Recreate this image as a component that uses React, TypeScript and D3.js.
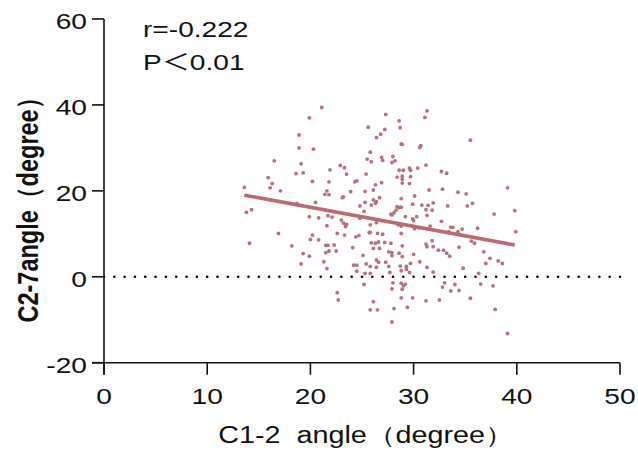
import React from "react";
import * as d3 from "d3";

const xTicks = [0, 10, 20, 30, 40, 50];
const yTicks = [-20, 0, 20, 40, 60];
const xTitle = "C1-2  angle（degree）";
const yTitle = "C2-7angle（degree）";
const annotationR = "r=-0.222";
const annotationP = ["P", "＜", "0.01"];

// C1-2 angle values
const xValues = [
  21.1, 19.9, 18.9, 25.6, 26.4, 18.9, 20.3, 25.8, 16.5, 19.1, 25.5, 25.9, 18.6, 19.3, 21.9, 22.9, 23.3, 23.5, 25.4, 15.9,
  16.3, 16.1, 20.2, 21.8, 24.3, 24.5, 26.3, 13.6, 17.1, 21.6, 21.4, 21.8, 23.9, 25.3, 26.1, 23.2, 23.1, 20.5, 25.3, 24.8,
  26.1, 26.4, 25.9, 26.3, 18.7, 13.8, 14.3, 31.3, 31.1, 27.3, 28.6, 28.7, 27.2, 26.8, 35.5, 28.8, 28.9, 30.7, 30.6, 26.9,
  27.0, 28.0, 28.2, 27.9, 31.2, 28.6, 29.0, 29.6, 29.7, 30.4, 32.7, 33.2, 28.4, 28.9, 28.9, 29.7, 26.9, 28.9, 29.6, 31.5,
  32.8, 34.3, 35.1, 39.1, 26.7, 28.8, 30.1, 31.9, 29.9, 30.8, 31.4, 33.3, 35.2, 35.7, 28.4, 28.6, 28.8, 28.3, 28.1, 27.8,
  31.2, 31.8, 39.8, 37.8, 39.9, 19.9, 20.8, 21.7, 22.1, 21.6, 23.0, 23.2, 23.5, 23.4, 24.8, 25.2, 25.8, 26.4, 16.9, 14.1,
  20.2, 20.0, 20.8, 22.6, 23.3, 24.4, 24.7, 25.7, 25.8, 26.5, 18.2, 21.5, 21.7, 22.3, 21.5, 21.8, 22.5, 24.1, 25.9, 26.1,
  26.3, 26.6, 19.3, 19.9, 25.1, 21.3, 19.1, 24.2, 24.5, 25.8, 26.4, 26.6, 25.4, 21.6, 24.5, 25.3, 25.8, 25.2, 22.6, 22.7,
  26.1, 25.8, 26.5, 27.9, 29.2, 29.9, 30.0, 30.3, 31.3, 28.5, 28.8, 31.6, 32.7, 30.1, 30.5, 33.4, 33.6, 33.8, 34.3, 34.7,
  36.2, 27.0, 28.8, 27.2, 27.8, 28.9, 26.7, 27.6, 27.9, 27.9, 31.2, 31.3, 31.8, 31.9, 32.4, 32.9, 33.2, 33.5, 34.4, 35.6,
  35.9, 30.0, 28.6, 28.9, 26.4, 27.3, 27.6, 28.7, 29.3, 29.7, 30.6, 31.3, 31.9, 28.8, 29.3, 29.6, 27.7, 36.8, 37.4, 37.0,
  38.2, 38.6, 34.8, 36.3, 28.0, 28.8, 29.2, 29.0, 27.9, 28.9, 33.0, 32.8, 34.0, 33.6, 34.4, 36.5, 37.7, 28.8, 29.9, 31.2,
  32.5, 35.5, 28.1, 29.4, 37.9, 27.9, 39.1,
];

// C2-7 angle values
const yValues = [
  39.4, 37.0, 33.0, 34.8, 32.4, 30.0, 29.7, 29.0, 27.0, 26.3, 27.4, 26.8, 24.0, 24.2, 24.9, 25.9, 25.4, 23.9, 23.9, 23.1,
  21.7, 20.7, 22.2, 22.1, 22.1, 22.3, 21.4, 20.8, 20.0, 20.0, 19.2, 19.1, 19.8, 19.9, 20.2, 18.6, 18.4, 17.3, 17.3, 16.5,
  17.9, 17.5, 16.7, 17.1, 17.1, 15.0, 15.6, 38.6, 37.1, 37.8, 36.3, 34.7, 34.3, 33.2, 31.8, 30.9, 30.8, 30.5, 30.1, 27.8,
  27.1, 28.0, 27.0, 26.6, 26.0, 24.8, 24.8, 25.3, 24.8, 25.3, 24.5, 24.1, 23.2, 23.4, 22.7, 23.3, 21.9, 21.8, 21.7, 20.2,
  20.4, 19.7, 19.3, 20.7, 18.4, 18.2, 18.8, 17.2, 16.9, 16.7, 16.6, 16.5, 16.5, 17.1, 16.3, 16.1, 16.2, 15.5, 14.9, 14.6,
  15.6, 15.5, 15.4, 14.6, 10.5, 14.0, 13.7, 14.2, 13.9, 11.9, 13.2, 12.5, 12.2, 11.7, 13.6, 15.2, 12.1, 12.6, 10.1, 7.8,
  9.7, 8.7, 8.6, 10.1, 9.7, 9.3, 9.6, 10.3, 10.3, 10.1, 7.2, 7.3, 7.3, 7.4, 5.6, 6.0, 6.0, 6.8, 7.9, 6.6,
  7.8, 8.1, 5.4, 4.8, 5.0, 3.5, 3.0, 2.7, 2.7, 2.4, 2.2, 3.4, 3.0, 1.9, 1.3, 0.8, 0.8, -1.8, -3.7, -5.4,
  -5.8, -7.7, -7.7, 14.4, 14.0, 13.5, 13.1, 14.0, 14.3, 12.1, 11.8, 11.8, 12.9, 11.2, 11.4, 10.5, 11.5, 11.5, 10.5, 11.1,
  11.3, 9.9, 10.1, 8.0, 7.8, 7.2, 6.6, 5.8, 5.6, 4.9, 7.6, 7.0, 8.4, 7.0, 6.2, 6.2, 5.5, 4.8, 6.9, 8.3,
  7.8, 5.2, 5.5, 4.7, 3.9, 3.4, 2.4, 2.5, 2.4, 3.1, 3.5, 2.2, 1.1, 1.4, 1.7, 1.0, 1.0, 5.8, 4.3, 3.1,
  3.7, 3.1, 2.0, 0.8, -1.4, -1.5, -1.7, -2.1, -2.8, -2.9, -1.4, -2.4, -1.8, -3.3, -3.2, -1.7, -2.1, -4.9, -4.9, -5.6,
  -5.4, -5.0, -7.4, -7.1, -7.6, -10.5, -13.2,
];

// regression line endpoints
const fitX = [13.6, 39.8];
const fitY = [19.0, 7.4];

const W = 638;
const H = 452;
const FONT = "'Liberation Sans', Arial, Helvetica, sans-serif";
const CJK = "'Noto Sans CJK SC', sans-serif";
const STRETCH = 1.25;

export default function App() {
  const x = d3.scaleLinear().domain([0, 50]).range([104, 620]);
  const y = d3.scaleLinear().domain([-20, 60]).range([362.7, 19]);
  const points = xValues.map((v, i) => [v, yValues[i]] as [number, number]);
  const fitLine = d3
    .line<number>()
    .x((d) => x(fitX[d]))
    .y((d) => y(fitY[d]));
  const x0 = x(0);
  const yBase = y(-20);
  const tickLen = 12;
  const pointColor = "#b6717a";
  const lineColor = "#bb6a70";
  const ink = "#111";

  return (
    <svg
      width={W}
      height={H}
      style={{ position: "absolute", left: 0, top: 0, background: "#fff" }}
      fontFamily={FONT}
    >
      <rect x={0} y={0} width={W} height={H} fill="#fff" />
      {/* dotted zero line */}
      <line
        x1={x(0)}
        x2={x(50)}
        y1={y(0)}
        y2={y(0)}
        stroke="#000"
        strokeWidth={2.6}
        strokeLinecap="round"
        strokeDasharray={`0 ${x(1) - x(0)}`}
      />
      {/* points */}
      {points.map((p, i) => (
        <circle key={i} cx={x(p[0])} cy={y(p[1])} r={1.9} fill={pointColor} />
      ))}
      {/* regression line */}
      <path d={fitLine([0, 1]) || ""} stroke={lineColor} strokeWidth={3.6} fill="none" />
      {/* axes */}
      <line x1={x0} x2={x0} y1={y(60)} y2={yBase + tickLen} stroke={ink} strokeWidth={1.6} />
      <line x1={x0 - tickLen} x2={x(50)} y1={yBase} y2={yBase} stroke={ink} strokeWidth={1.6} />
      {yTicks.map((t) => (
        <g key={"yt" + t}>
          <line x1={x0 - tickLen} x2={x0} y1={y(t)} y2={y(t)} stroke={ink} strokeWidth={1.6} />
          <g transform={`translate(${x0 - 17},${y(t) + 10}) scale(${STRETCH},1)`}>
            <text x={0} y={0} textAnchor="end" fontSize={22.5} fill={ink}>
              {t}
            </text>
          </g>
        </g>
      ))}
      {xTicks.map((t) => (
        <g key={"xt" + t}>
          <line x1={x(t)} x2={x(t)} y1={yBase} y2={yBase + tickLen} stroke={ink} strokeWidth={1.6} />
          <g transform={`translate(${x(t)},${yBase + 41}) scale(${STRETCH},1)`}>
            <text x={0} y={0} textAnchor="middle" fontSize={22.5} fill={ink}>
              {t}
            </text>
          </g>
        </g>
      ))}
      {/* axis titles */}
      <g transform={`translate(366,443) scale(${STRETCH},1)`}>
        <text x={0} y={0} textAnchor="middle" fontSize={23} fill={ink} style={{ whiteSpace: "pre" }}>
          {xTitle}
        </text>
      </g>
      <g transform={`translate(38,204) scale(${STRETCH},1) rotate(-90)`}>
        <text x={0} y={0} textAnchor="middle" fontSize={23.5} fontWeight="bold" fill={ink}>
          {yTitle}
        </text>
      </g>
      {/* annotations */}
      <g transform={`translate(143,37) scale(${STRETCH},1)`}>
        <text x={0} y={0} fontSize={22.5} fill={ink}>
          {annotationR}
        </text>
      </g>
      <g transform={`translate(143,70) scale(${STRETCH},1)`}>
        <text x={0} y={0} fontSize={22.5} fill={ink}>
          <tspan>{annotationP[0]}</tspan>
          <tspan fontFamily={CJK} fontSize={22.5}>{annotationP[1]}</tspan>
          <tspan>{annotationP[2]}</tspan>
        </text>
      </g>
    </svg>
  );
}
